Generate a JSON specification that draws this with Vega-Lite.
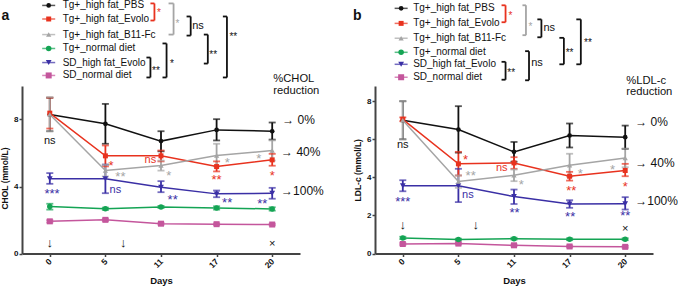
{
"$schema": "https://vega.github.io/schema/vega-lite/v6.json",
"padding": {"left": 0, "top": 0, "right": 0, "bottom": 0},
"config": {"font": "Liberation Sans", "view": {"stroke": null}},
"datasets": {
"a_main": [
{"day":0,"group":"SD_normal diet","mean":1.92,"lo":1.85,"hi":1.99},
{"day":5,"group":"SD_normal diet","mean":2.01,"lo":1.94,"hi":2.08},
{"day":11,"group":"SD_normal diet","mean":1.78,"lo":1.72,"hi":1.84},
{"day":17,"group":"SD_normal diet","mean":1.75,"lo":1.7,"hi":1.8},
{"day":20,"group":"SD_normal diet","mean":1.73,"lo":1.68,"hi":1.78},
{"day":0,"group":"Tg+_normal diet","mean":2.8,"lo":2.62,"hi":2.97},
{"day":5,"group":"Tg+_normal diet","mean":2.67,"lo":2.6,"hi":2.74},
{"day":11,"group":"Tg+_normal diet","mean":2.78,"lo":2.72,"hi":2.84},
{"day":17,"group":"Tg+_normal diet","mean":2.72,"lo":2.62,"hi":2.82},
{"day":20,"group":"Tg+_normal diet","mean":2.66,"lo":2.56,"hi":2.76},
{"day":0,"group":"SD_high fat_Evolo","mean":4.46,"lo":4.16,"hi":4.8},
{"day":5,"group":"SD_high fat_Evolo","mean":4.46,"lo":3.6,"hi":5.31},
{"day":11,"group":"SD_high fat_Evolo","mean":3.96,"lo":3.66,"hi":4.32},
{"day":17,"group":"SD_high fat_Evolo","mean":3.56,"lo":3.36,"hi":3.76},
{"day":20,"group":"SD_high fat_Evolo","mean":3.6,"lo":3.27,"hi":3.92},
{"day":0,"group":"Tg+_high fat_PBS","mean":8.3,"lo":7.3,"hi":9.3},
{"day":5,"group":"Tg+_high fat_PBS","mean":7.74,"lo":6.55,"hi":8.93},
{"day":11,"group":"Tg+_high fat_PBS","mean":6.71,"lo":6.1,"hi":7.3},
{"day":17,"group":"Tg+_high fat_PBS","mean":7.38,"lo":6.75,"hi":8.02},
{"day":20,"group":"Tg+_high fat_PBS","mean":7.3,"lo":6.8,"hi":7.82},
{"day":0,"group":"Tg+_high fat_Evolo","mean":8.38,"lo":7.46,"hi":9.3},
{"day":5,"group":"Tg+_high fat_Evolo","mean":5.83,"lo":5.2,"hi":6.45},
{"day":11,"group":"Tg+_high fat_Evolo","mean":5.83,"lo":5.5,"hi":6.15},
{"day":17,"group":"Tg+_high fat_Evolo","mean":5.19,"lo":4.9,"hi":5.5},
{"day":20,"group":"Tg+_high fat_Evolo","mean":5.59,"lo":5.24,"hi":5.95},
{"day":0,"group":"Tg+_high fat_B11-Fc","mean":8.3,"lo":7.3,"hi":9.33},
{"day":5,"group":"Tg+_high fat_B11-Fc","mean":4.96,"lo":4.6,"hi":5.3},
{"day":11,"group":"Tg+_high fat_B11-Fc","mean":5.25,"lo":4.95,"hi":5.55},
{"day":17,"group":"Tg+_high fat_B11-Fc","mean":5.85,"lo":5.2,"hi":6.55},
{"day":20,"group":"Tg+_high fat_B11-Fc","mean":6.15,"lo":5.55,"hi":6.75}
],
"b_main": [
{"day":0,"group":"SD_normal diet","mean":0.5,"lo":0.45,"hi":0.55},
{"day":5,"group":"SD_normal diet","mean":0.52,"lo":0.47,"hi":0.57},
{"day":11,"group":"SD_normal diet","mean":0.43,"lo":0.38,"hi":0.48},
{"day":17,"group":"SD_normal diet","mean":0.37,"lo":0.32,"hi":0.42},
{"day":20,"group":"SD_normal diet","mean":0.35,"lo":0.3,"hi":0.4},
{"day":0,"group":"Tg+_normal diet","mean":0.82,"lo":0.76,"hi":0.88},
{"day":5,"group":"Tg+_normal diet","mean":0.73,"lo":0.68,"hi":0.78},
{"day":11,"group":"Tg+_normal diet","mean":0.78,"lo":0.73,"hi":0.83},
{"day":17,"group":"Tg+_normal diet","mean":0.75,"lo":0.7,"hi":0.8},
{"day":20,"group":"Tg+_normal diet","mean":0.75,"lo":0.7,"hi":0.8},
{"day":0,"group":"SD_high fat_Evolo","mean":3.56,"lo":3.27,"hi":3.85},
{"day":5,"group":"SD_high fat_Evolo","mean":3.56,"lo":2.7,"hi":4.45},
{"day":11,"group":"SD_high fat_Evolo","mean":2.99,"lo":2.6,"hi":3.36},
{"day":17,"group":"SD_high fat_Evolo","mean":2.6,"lo":2.4,"hi":2.8},
{"day":20,"group":"SD_high fat_Evolo","mean":2.62,"lo":2.31,"hi":2.96},
{"day":0,"group":"Tg+_high fat_PBS","mean":7.0,"lo":6.0,"hi":8.0},
{"day":5,"group":"Tg+_high fat_PBS","mean":6.51,"lo":5.3,"hi":7.74},
{"day":11,"group":"Tg+_high fat_PBS","mean":5.34,"lo":4.82,"hi":5.86},
{"day":17,"group":"Tg+_high fat_PBS","mean":6.2,"lo":5.57,"hi":6.83},
{"day":20,"group":"Tg+_high fat_PBS","mean":6.11,"lo":5.5,"hi":6.72},
{"day":0,"group":"Tg+_high fat_Evolo","mean":7.05,"lo":6.95,"hi":7.15},
{"day":5,"group":"Tg+_high fat_Evolo","mean":4.71,"lo":4.1,"hi":5.34},
{"day":11,"group":"Tg+_high fat_Evolo","mean":4.76,"lo":4.45,"hi":5.06},
{"day":17,"group":"Tg+_high fat_Evolo","mean":4.06,"lo":3.83,"hi":4.29},
{"day":20,"group":"Tg+_high fat_Evolo","mean":4.36,"lo":4.06,"hi":4.71},
{"day":0,"group":"Tg+_high fat_B11-Fc","mean":7.0,"lo":6.0,"hi":8.0},
{"day":5,"group":"Tg+_high fat_B11-Fc","mean":3.78,"lo":3.45,"hi":4.1},
{"day":11,"group":"Tg+_high fat_B11-Fc","mean":4.11,"lo":3.8,"hi":4.41},
{"day":17,"group":"Tg+_high fat_B11-Fc","mean":4.64,"lo":4.04,"hi":5.24},
{"day":20,"group":"Tg+_high fat_B11-Fc","mean":5.02,"lo":4.53,"hi":5.51}
],
"a_leg": [
{"group":"Tg+_high fat_PBS","lx":-0.02,"ly":14.81},
{"group":"Tg+_high fat_Evolo","lx":-0.02,"ly":14.0},
{"group":"Tg+_high fat_B11-Fc","lx":-0.02,"ly":13.07},
{"group":"Tg+_normal diet","lx":-0.02,"ly":12.24},
{"group":"SD_high fat_Evolo","lx":-0.02,"ly":11.4},
{"group":"SD_normal diet","lx":-0.02,"ly":10.63}
],
"b_leg": [
{"group":"Tg+_high fat_PBS","lx":-0.03,"ly":12.88},
{"group":"Tg+_high fat_Evolo","lx":-0.03,"ly":12.09},
{"group":"Tg+_high fat_B11-Fc","lx":-0.03,"ly":11.31},
{"group":"Tg+_normal diet","lx":-0.03,"ly":10.57},
{"group":"SD_high fat_Evolo","lx":-0.03,"ly":9.94},
{"group":"SD_normal diet","lx":-0.03,"ly":9.26}
],
"a_txt": [
{"sx":0,"y":6.7,"label":"ns","group":"Tg+_high fat_PBS"},
{"sx":1.1,"y":5.43,"label":"*","group":"Tg+_high fat_Evolo"},
{"sx":1.27,"y":4.72,"label":"**","group":"Tg+_high fat_B11-Fc"},
{"sx":1.18,"y":3.8,"label":"ns","group":"SD_high fat_Evolo"},
{"sx":1.81,"y":5.6,"label":"ns","group":"Tg+_high fat_Evolo"},
{"sx":2.14,"y":4.83,"label":"*","group":"Tg+_high fat_B11-Fc"},
{"sx":2.21,"y":3.35,"label":"**","group":"SD_high fat_Evolo"},
{"sx":3.0,"y":4.54,"label":"**","group":"Tg+_high fat_Evolo"},
{"sx":3.19,"y":5.6,"label":"*","group":"Tg+_high fat_B11-Fc"},
{"sx":3.19,"y":3.22,"label":"**","group":"SD_high fat_Evolo"},
{"sx":3.76,"y":5.85,"label":"*","group":"Tg+_high fat_B11-Fc"},
{"sx":4.0,"y":4.83,"label":"*","group":"Tg+_high fat_Evolo"},
{"sx":3.82,"y":3.16,"label":"**","group":"SD_high fat_Evolo"},
{"sx":0.04,"y":3.76,"label":"***","group":"SD_high fat_Evolo"}
],
"b_txt": [
{"sx":0,"y":5.68,"label":"ns","group":"Tg+_high fat_PBS"},
{"sx":1.13,"y":5.06,"label":"*","group":"Tg+_high fat_Evolo"},
{"sx":1.22,"y":4.22,"label":"**","group":"Tg+_high fat_B11-Fc"},
{"sx":1.17,"y":3.06,"label":"ns","group":"SD_high fat_Evolo"},
{"sx":1.78,"y":4.48,"label":"ns","group":"Tg+_high fat_Evolo"},
{"sx":2.13,"y":3.74,"label":"*","group":"Tg+_high fat_B11-Fc"},
{"sx":2.01,"y":2.27,"label":"**","group":"SD_high fat_Evolo"},
{"sx":3.03,"y":3.43,"label":"**","group":"Tg+_high fat_Evolo"},
{"sx":3.19,"y":4.32,"label":"*","group":"Tg+_high fat_B11-Fc"},
{"sx":3.01,"y":2.06,"label":"**","group":"SD_high fat_Evolo"},
{"sx":3.77,"y":4.53,"label":"*","group":"Tg+_high fat_B11-Fc"},
{"sx":4.0,"y":3.64,"label":"*","group":"Tg+_high fat_Evolo"},
{"sx":4.0,"y":2.15,"label":"**","group":"SD_high fat_Evolo"},
{"sx":0,"y":2.85,"label":"***","group":"SD_high fat_Evolo"}
],
"a_br": [
{"xl":1.81,"xr":1.882,"yt":14.93,"yb":13.91,"group":"Tg+_high fat_Evolo"},
{"xl":2.136,"xr":2.226,"yt":14.93,"yb":13.07,"group":"Tg+_high fat_B11-Fc"},
{"xl":2.46,"xr":2.534,"yt":14.15,"yb":13.01,"group":"Tg+_high fat_PBS"},
{"xl":2.77,"xr":2.842,"yt":13.07,"yb":11.34,"group":"Tg+_high fat_PBS"},
{"xl":3.113,"xr":3.186,"yt":14.15,"yb":10.51,"group":"Tg+_high fat_PBS"},
{"xl":1.738,"xr":1.81,"yt":11.7,"yb":10.51,"group":"Tg+_high fat_PBS"},
{"xl":2.027,"xr":2.1,"yt":12.54,"yb":10.51,"group":"Tg+_high fat_PBS"}
],
"b_br": [
{"xl":1.776,"xr":1.848,"yt":13.04,"yb":12.15,"group":"Tg+_high fat_Evolo"},
{"xl":2.152,"xr":2.215,"yt":13.04,"yb":11.47,"group":"Tg+_high fat_B11-Fc"},
{"xl":2.42,"xr":2.493,"yt":12.3,"yb":11.36,"group":"Tg+_high fat_PBS"},
{"xl":2.816,"xr":2.897,"yt":11.33,"yb":9.94,"group":"Tg+_high fat_PBS"},
{"xl":3.121,"xr":3.202,"yt":12.3,"yb":9.94,"group":"Tg+_high fat_PBS"},
{"xl":1.776,"xr":1.848,"yt":10.07,"yb":9.13,"group":"Tg+_high fat_PBS"},
{"xl":2.2,"xr":2.27,"yt":10.63,"yb":9.1,"group":"Tg+_high fat_PBS"}
],
"a_brl": [
{"sx":1.93,"y":14.45,"label":"*","group":"Tg+_high fat_Evolo"},
{"sx":2.26,"y":13.85,"label":"*","group":"Tg+_high fat_B11-Fc"},
{"sx":2.56,"y":13.61,"label":"ns","group":"Tg+_high fat_PBS"},
{"sx":2.87,"y":12.0,"label":"**","group":"Tg+_high fat_PBS"},
{"sx":3.23,"y":13.07,"label":"**","group":"Tg+_high fat_PBS"},
{"sx":1.84,"y":11.04,"label":"**","group":"Tg+_high fat_PBS"},
{"sx":2.16,"y":11.46,"label":"*","group":"Tg+_high fat_PBS"}
],
"b_brl": [
{"sx":1.9,"y":12.58,"label":"*","group":"Tg+_high fat_Evolo"},
{"sx":2.26,"y":11.99,"label":"*","group":"Tg+_high fat_B11-Fc"},
{"sx":2.53,"y":11.85,"label":"ns","group":"Tg+_high fat_PBS"},
{"sx":2.93,"y":10.63,"label":"**","group":"Tg+_high fat_PBS"},
{"sx":3.26,"y":11.15,"label":"**","group":"Tg+_high fat_PBS"},
{"sx":1.88,"y":9.57,"label":"**","group":"Tg+_high fat_PBS"},
{"sx":2.31,"y":9.99,"label":"ns","group":"Tg+_high fat_PBS"}
],
"a_note": [
{"sx":-0.8,"y":14.2,"label":"a","kind":"panel"},
{"sx":0,"y":0.6,"label":"↓","kind":"arrow"},
{"sx":1.32,"y":0.6,"label":"↓","kind":"arrow"},
{"sx":4,"y":0.54,"label":"×","kind":"cross"},
{"sx":4.18,"y":8.0,"label":"→ 0%","kind":"pct"},
{"sx":4.16,"y":6.03,"label":"→ 40%","kind":"pct"},
{"sx":4.16,"y":3.76,"label":"→100%","kind":"pct"},
{"sx":4.02,"y":10.39,"label":"%CHOL","kind":"head"},
{"sx":4.02,"y":9.73,"label":"reduction","kind":"head"}
],
"b_note": [
{"sx":-0.82,"y":12.5,"label":"b","kind":"panel"},
{"sx":0,"y":1.48,"label":"↓","kind":"arrow"},
{"sx":1.31,"y":1.48,"label":"↓","kind":"arrow"},
{"sx":4,"y":1.27,"label":"×","kind":"cross"},
{"sx":4.18,"y":6.9,"label":"→ 0%","kind":"pct"},
{"sx":4.18,"y":4.74,"label":"→ 40%","kind":"pct"},
{"sx":4.18,"y":2.75,"label":"→100%","kind":"pct"},
{"sx":4.02,"y":9.05,"label":"%LDL-c","kind":"head"},
{"sx":4.02,"y":8.47,"label":"reduction","kind":"head"}
]
},
"spacing": 75,
"bounds": "flush",
"hconcat": [
{
"width": 278, "height": 167.5,
"layer": [
{
"data": {"name": "a_main"},
"encoding": {
"x": {"field": "day", "type": "ordinal", "sort": [0,5,11,17,20], "scale": {"type": "point", "padding": 0.5},
"axis": {"title": "Days", "titleFontSize": 9.5, "titleFontWeight": "bold", "titleColor": "#111", "titlePadding": 6, "labelAngle": -45, "labelAlign": "right", "labelBaseline": "middle", "labelFontSize": 8.5, "labelFontWeight": "bold", "labelColor": "#111", "labelPadding": 3, "tickColor": "#444", "tickWidth": 1.5, "tickSize": 3, "domainColor": "#444", "domainWidth": 2, "grid": false}},
"color": {"field": "group", "type": "nominal", "scale": {"domain": ["Tg+_high fat_PBS","Tg+_high fat_Evolo","Tg+_high fat_B11-Fc","Tg+_normal diet","SD_high fat_Evolo","SD_normal diet"], "range": ["#111111","#e8321e","#a5a5a5","#14a454","#3a2fa5","#c4569c"]}, "legend": null}
},
"layer": [
{"mark": {"type": "rule", "strokeWidth": 1.8}, "encoding": {"y": {"field": "lo", "type": "quantitative"}, "y2": {"field": "hi"}}},
{"mark": {"type": "tick", "size": 7, "thickness": 1.8}, "encoding": {"y": {"field": "lo", "type": "quantitative"}}},
{"mark": {"type": "tick", "size": 7, "thickness": 1.8}, "encoding": {"y": {"field": "hi", "type": "quantitative"}}},
{"mark": {"type": "line", "strokeWidth": 1.5}, "encoding": {"y": {"field": "mean", "type": "quantitative", "scale": {"domain": [0, 10], "nice": false, "zero": false},
"axis": {"values": [0,2,4,6,8,10], "domainColor": "#444", "domainWidth": 2, "grid": false, "title": "CHOL (mmol/L)", "titleFontSize": 8.5, "titleFontWeight": "bold", "titleColor": "#111", "titleY": 92, "titlePadding": 4, "labelFontSize": 8, "labelFontWeight": "bold", "labelColor": "#111", "labelPadding": 1, "tickColor": "#444", "tickWidth": 1.5, "tickSize": 3}},
"opacity": {"field": "group", "type": "nominal", "scale": {"domain": ["Tg+_high fat_PBS","Tg+_high fat_Evolo","Tg+_high fat_B11-Fc","Tg+_normal diet","SD_high fat_Evolo","SD_normal diet"], "range": [1,1,1,0.75,1,0.7]}, "legend": null}}},
{"mark": {"type": "point", "filled": true, "opacity": 1}, "encoding": {"y": {"field": "mean", "type": "quantitative"},
"shape": {"field": "group", "type": "nominal", "scale": {"domain": ["Tg+_high fat_PBS","Tg+_high fat_Evolo","Tg+_high fat_B11-Fc","Tg+_normal diet","SD_high fat_Evolo","SD_normal diet"], "range": ["circle","square","triangle-up","circle","triangle-down","square"]}, "legend": null},
"size": {"field": "group", "type": "nominal", "scale": {"domain": ["Tg+_high fat_PBS","Tg+_high fat_Evolo","Tg+_high fat_B11-Fc","Tg+_normal diet","SD_high fat_Evolo","SD_normal diet"], "range": [22,36,26,50,26,50]}, "legend": null}}}
]
},
{
"encoding": {"x": {"field": "sx", "type": "quantitative", "scale": {"domain": [-0.5, 4.5], "nice": false, "zero": false}, "axis": null},
"color": {"field": "group", "type": "nominal", "scale": {"domain": ["Tg+_high fat_PBS","Tg+_high fat_Evolo","Tg+_high fat_B11-Fc","Tg+_normal diet","SD_high fat_Evolo","SD_normal diet"], "range": ["#111111","#e8321e","#a5a5a5","#14a454","#3a2fa5","#c4569c"]}, "legend": null}},
"layer": [
{"data": {"name": "a_leg"}, "mark": {"type": "tick", "orient": "horizontal", "size": 13, "thickness": 1.5}, "encoding": {"x": {"field": "lx", "type": "quantitative"}, "y": {"field": "ly", "type": "quantitative"}}},
{"data": {"name": "a_leg"}, "mark": {"type": "point", "filled": true, "opacity": 1}, "encoding": {"x": {"field": "lx", "type": "quantitative"}, "y": {"field": "ly", "type": "quantitative"},
"shape": {"field": "group", "type": "nominal", "scale": {"domain": ["Tg+_high fat_PBS","Tg+_high fat_Evolo","Tg+_high fat_B11-Fc","Tg+_normal diet","SD_high fat_Evolo","SD_normal diet"], "range": ["circle","square","triangle-up","circle","triangle-down","square"]}, "legend": null},
"size": {"field": "group", "type": "nominal", "scale": {"domain": ["Tg+_high fat_PBS","Tg+_high fat_Evolo","Tg+_high fat_B11-Fc","Tg+_normal diet","SD_high fat_Evolo","SD_normal diet"], "range": [22,36,26,50,26,50]}, "legend": null}}},
{"data": {"name": "a_leg"}, "mark": {"type": "text", "align": "left", "baseline": "middle", "fontSize": 10, "dx": 14}, "encoding": {"x": {"field": "lx", "type": "quantitative"}, "y": {"field": "ly", "type": "quantitative"}, "text": {"field": "group"}, "color": {"value": "#111"}}},
{"data": {"name": "a_br"}, "mark": {"type": "rule", "strokeWidth": 1.8}, "encoding": {"x": {"field": "xr", "type": "quantitative"}, "y": {"field": "yt", "type": "quantitative"}, "y2": {"field": "yb"}}},
{"data": {"name": "a_br"}, "mark": {"type": "rule", "strokeWidth": 1.8}, "encoding": {"x": {"field": "xl", "type": "quantitative"}, "x2": {"field": "xr"}, "y": {"field": "yt", "type": "quantitative"}}},
{"data": {"name": "a_br"}, "mark": {"type": "rule", "strokeWidth": 1.8}, "encoding": {"x": {"field": "xl", "type": "quantitative"}, "x2": {"field": "xr"}, "y": {"field": "yb", "type": "quantitative"}}},
{"data": {"name": "a_brl"}, "transform": [{"filter": "indexof(datum.label, '*') >= 0"}], "mark": {"type": "text", "align": "left", "baseline": "middle", "fontSize": 10, "dy": 2}, "encoding": {"y": {"field": "y", "type": "quantitative"}, "text": {"field": "label"}}},
{"data": {"name": "a_brl"}, "transform": [{"filter": "indexof(datum.label, '*') < 0"}], "mark": {"type": "text", "align": "left", "baseline": "middle", "fontSize": 11}, "encoding": {"y": {"field": "y", "type": "quantitative"}, "text": {"field": "label"}}},
{"data": {"name": "a_txt"}, "transform": [{"filter": "indexof(datum.label, '*') >= 0"}], "mark": {"type": "text", "align": "center", "baseline": "middle", "fontSize": 13, "dy": 3}, "encoding": {"y": {"field": "y", "type": "quantitative"}, "text": {"field": "label"}}},
{"data": {"name": "a_txt"}, "transform": [{"filter": "indexof(datum.label, '*') < 0"}], "mark": {"type": "text", "align": "center", "baseline": "middle", "fontSize": 11}, "encoding": {"y": {"field": "y", "type": "quantitative"}, "text": {"field": "label"}}},
{"data": {"name": "a_note"}, "transform": [{"filter": "datum.kind == 'arrow'"}], "mark": {"type": "text", "align": "center", "baseline": "middle", "fontSize": 13}, "encoding": {"y": {"field": "y", "type": "quantitative"}, "text": {"field": "label"}, "color": {"value": "#111"}}},
{"data": {"name": "a_note"}, "transform": [{"filter": "datum.kind == 'cross'"}], "mark": {"type": "text", "align": "center", "baseline": "middle", "fontSize": 11}, "encoding": {"y": {"field": "y", "type": "quantitative"}, "text": {"field": "label"}, "color": {"value": "#111"}}},
{"data": {"name": "a_note"}, "transform": [{"filter": "datum.kind == 'pct'"}], "mark": {"type": "text", "align": "left", "baseline": "middle", "fontSize": 12}, "encoding": {"y": {"field": "y", "type": "quantitative"}, "text": {"field": "label"}, "color": {"value": "#111"}}},
{"data": {"name": "a_note"}, "transform": [{"filter": "datum.kind == 'head'"}], "mark": {"type": "text", "align": "left", "baseline": "middle", "fontSize": 11.2}, "encoding": {"y": {"field": "y", "type": "quantitative"}, "text": {"field": "label"}, "color": {"value": "#111"}}},
{"data": {"name": "a_note"}, "transform": [{"filter": "datum.kind == 'panel'"}], "mark": {"type": "text", "align": "center", "baseline": "middle", "fontSize": 14, "fontWeight": "bold"}, "encoding": {"y": {"field": "y", "type": "quantitative"}, "text": {"field": "label"}, "color": {"value": "#111"}}}
]
}
],
"resolve": {"scale": {"x": "independent"}}
},
{
"width": 278, "height": 167.5,
"layer": [
{
"data": {"name": "b_main"},
"encoding": {
"x": {"field": "day", "type": "ordinal", "sort": [0,5,11,17,20], "scale": {"type": "point", "padding": 0.5},
"axis": {"title": "Days", "titleFontSize": 9.5, "titleFontWeight": "bold", "titleColor": "#111", "titlePadding": 6, "labelAngle": -45, "labelAlign": "right", "labelBaseline": "middle", "labelFontSize": 8.5, "labelFontWeight": "bold", "labelColor": "#111", "labelPadding": 3, "tickColor": "#444", "tickWidth": 1.5, "tickSize": 3, "domainColor": "#444", "domainWidth": 2, "grid": false}},
"color": {"field": "group", "type": "nominal", "scale": {"domain": ["Tg+_high fat_PBS","Tg+_high fat_Evolo","Tg+_high fat_B11-Fc","Tg+_normal diet","SD_high fat_Evolo","SD_normal diet"], "range": ["#111111","#e8321e","#a5a5a5","#14a454","#3a2fa5","#c4569c"]}, "legend": null}
},
"layer": [
{"mark": {"type": "rule", "strokeWidth": 1.8}, "encoding": {"y": {"field": "lo", "type": "quantitative"}, "y2": {"field": "hi"}}},
{"mark": {"type": "tick", "size": 7, "thickness": 1.8}, "encoding": {"y": {"field": "lo", "type": "quantitative"}}},
{"mark": {"type": "tick", "size": 7, "thickness": 1.8}, "encoding": {"y": {"field": "hi", "type": "quantitative"}}},
{"mark": {"type": "line", "strokeWidth": 1.5}, "encoding": {"y": {"field": "mean", "type": "quantitative", "scale": {"domain": [0, 8.8], "nice": false, "zero": false},
"axis": {"values": [0,2,4,6,8], "domainColor": "#444", "domainWidth": 2, "grid": false, "title": "LDL-c (mmol/L)", "titleFontSize": 8.5, "titleFontWeight": "bold", "titleColor": "#111", "titlePadding": 4, "labelFontSize": 8, "labelFontWeight": "bold", "labelColor": "#111", "labelPadding": 1, "tickColor": "#444", "tickWidth": 1.5, "tickSize": 3}},
"opacity": {"field": "group", "type": "nominal", "scale": {"domain": ["Tg+_high fat_PBS","Tg+_high fat_Evolo","Tg+_high fat_B11-Fc","Tg+_normal diet","SD_high fat_Evolo","SD_normal diet"], "range": [1,1,1,0.75,1,0.7]}, "legend": null}}},
{"mark": {"type": "point", "filled": true, "opacity": 1}, "encoding": {"y": {"field": "mean", "type": "quantitative"},
"shape": {"field": "group", "type": "nominal", "scale": {"domain": ["Tg+_high fat_PBS","Tg+_high fat_Evolo","Tg+_high fat_B11-Fc","Tg+_normal diet","SD_high fat_Evolo","SD_normal diet"], "range": ["circle","square","triangle-up","circle","triangle-down","square"]}, "legend": null},
"size": {"field": "group", "type": "nominal", "scale": {"domain": ["Tg+_high fat_PBS","Tg+_high fat_Evolo","Tg+_high fat_B11-Fc","Tg+_normal diet","SD_high fat_Evolo","SD_normal diet"], "range": [22,36,26,50,26,50]}, "legend": null}}}
]
},
{
"encoding": {"x": {"field": "sx", "type": "quantitative", "scale": {"domain": [-0.5, 4.5], "nice": false, "zero": false}, "axis": null},
"color": {"field": "group", "type": "nominal", "scale": {"domain": ["Tg+_high fat_PBS","Tg+_high fat_Evolo","Tg+_high fat_B11-Fc","Tg+_normal diet","SD_high fat_Evolo","SD_normal diet"], "range": ["#111111","#e8321e","#a5a5a5","#14a454","#3a2fa5","#c4569c"]}, "legend": null}},
"layer": [
{"data": {"name": "b_leg"}, "mark": {"type": "tick", "orient": "horizontal", "size": 13, "thickness": 1.5}, "encoding": {"x": {"field": "lx", "type": "quantitative"}, "y": {"field": "ly", "type": "quantitative"}}},
{"data": {"name": "b_leg"}, "mark": {"type": "point", "filled": true, "opacity": 1}, "encoding": {"x": {"field": "lx", "type": "quantitative"}, "y": {"field": "ly", "type": "quantitative"},
"shape": {"field": "group", "type": "nominal", "scale": {"domain": ["Tg+_high fat_PBS","Tg+_high fat_Evolo","Tg+_high fat_B11-Fc","Tg+_normal diet","SD_high fat_Evolo","SD_normal diet"], "range": ["circle","square","triangle-up","circle","triangle-down","square"]}, "legend": null},
"size": {"field": "group", "type": "nominal", "scale": {"domain": ["Tg+_high fat_PBS","Tg+_high fat_Evolo","Tg+_high fat_B11-Fc","Tg+_normal diet","SD_high fat_Evolo","SD_normal diet"], "range": [22,36,26,50,26,50]}, "legend": null}}},
{"data": {"name": "b_leg"}, "mark": {"type": "text", "align": "left", "baseline": "middle", "fontSize": 10, "dx": 12}, "encoding": {"x": {"field": "lx", "type": "quantitative"}, "y": {"field": "ly", "type": "quantitative"}, "text": {"field": "group"}, "color": {"value": "#111"}}},
{"data": {"name": "b_br"}, "mark": {"type": "rule", "strokeWidth": 1.8}, "encoding": {"x": {"field": "xr", "type": "quantitative"}, "y": {"field": "yt", "type": "quantitative"}, "y2": {"field": "yb"}}},
{"data": {"name": "b_br"}, "mark": {"type": "rule", "strokeWidth": 1.8}, "encoding": {"x": {"field": "xl", "type": "quantitative"}, "x2": {"field": "xr"}, "y": {"field": "yt", "type": "quantitative"}}},
{"data": {"name": "b_br"}, "mark": {"type": "rule", "strokeWidth": 1.8}, "encoding": {"x": {"field": "xl", "type": "quantitative"}, "x2": {"field": "xr"}, "y": {"field": "yb", "type": "quantitative"}}},
{"data": {"name": "b_brl"}, "transform": [{"filter": "indexof(datum.label, '*') >= 0"}], "mark": {"type": "text", "align": "left", "baseline": "middle", "fontSize": 10, "dy": 2}, "encoding": {"y": {"field": "y", "type": "quantitative"}, "text": {"field": "label"}}},
{"data": {"name": "b_brl"}, "transform": [{"filter": "indexof(datum.label, '*') < 0"}], "mark": {"type": "text", "align": "left", "baseline": "middle", "fontSize": 11}, "encoding": {"y": {"field": "y", "type": "quantitative"}, "text": {"field": "label"}}},
{"data": {"name": "b_txt"}, "transform": [{"filter": "indexof(datum.label, '*') >= 0"}], "mark": {"type": "text", "align": "center", "baseline": "middle", "fontSize": 13, "dy": 3}, "encoding": {"y": {"field": "y", "type": "quantitative"}, "text": {"field": "label"}}},
{"data": {"name": "b_txt"}, "transform": [{"filter": "indexof(datum.label, '*') < 0"}], "mark": {"type": "text", "align": "center", "baseline": "middle", "fontSize": 11}, "encoding": {"y": {"field": "y", "type": "quantitative"}, "text": {"field": "label"}}},
{"data": {"name": "b_note"}, "transform": [{"filter": "datum.kind == 'arrow'"}], "mark": {"type": "text", "align": "center", "baseline": "middle", "fontSize": 13}, "encoding": {"y": {"field": "y", "type": "quantitative"}, "text": {"field": "label"}, "color": {"value": "#111"}}},
{"data": {"name": "b_note"}, "transform": [{"filter": "datum.kind == 'cross'"}], "mark": {"type": "text", "align": "center", "baseline": "middle", "fontSize": 11}, "encoding": {"y": {"field": "y", "type": "quantitative"}, "text": {"field": "label"}, "color": {"value": "#111"}}},
{"data": {"name": "b_note"}, "transform": [{"filter": "datum.kind == 'pct'"}], "mark": {"type": "text", "align": "left", "baseline": "middle", "fontSize": 12}, "encoding": {"y": {"field": "y", "type": "quantitative"}, "text": {"field": "label"}, "color": {"value": "#111"}}},
{"data": {"name": "b_note"}, "transform": [{"filter": "datum.kind == 'head'"}], "mark": {"type": "text", "align": "left", "baseline": "middle", "fontSize": 11.2}, "encoding": {"y": {"field": "y", "type": "quantitative"}, "text": {"field": "label"}, "color": {"value": "#111"}}},
{"data": {"name": "b_note"}, "transform": [{"filter": "datum.kind == 'panel'"}], "mark": {"type": "text", "align": "center", "baseline": "middle", "fontSize": 14, "fontWeight": "bold"}, "encoding": {"y": {"field": "y", "type": "quantitative"}, "text": {"field": "label"}, "color": {"value": "#111"}}}
]
}
],
"resolve": {"scale": {"x": "independent"}}
}
]
}
